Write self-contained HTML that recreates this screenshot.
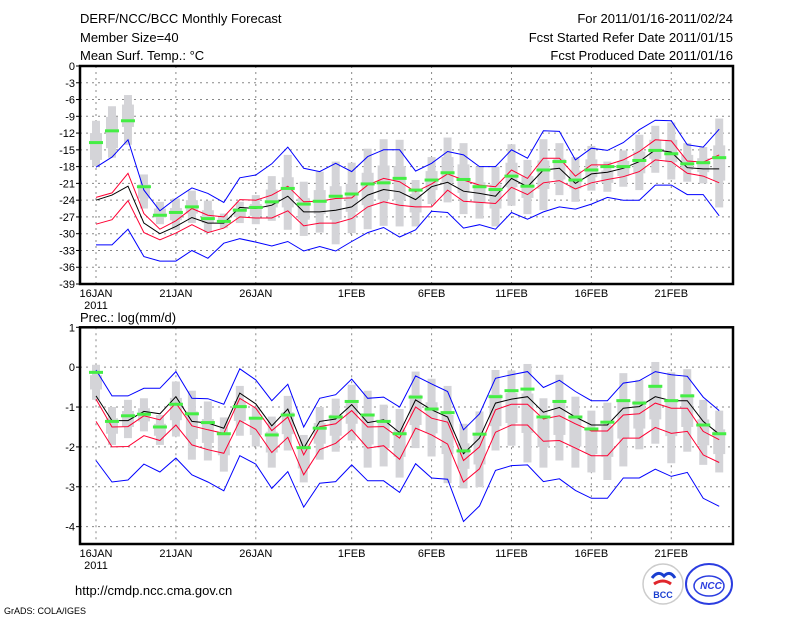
<!DOCTYPE html>
<html><head><meta charset="utf-8">
<style>
html,body{margin:0;padding:0;background:#fff;}
svg{display:block;font-family:"Liberation Sans",sans-serif;}
</style></head>
<body>
<svg id="chart" width="800" height="618" viewBox="0 0 800 618">
<text x="80" y="23" font-size="13">DERF/NCC/BCC Monthly Forecast</text>
<text x="80" y="42" font-size="13">Member Size=40</text>
<text x="80" y="60" font-size="13">Mean Surf. Temp.: °C</text>
<text x="733" y="23" font-size="13" text-anchor="end">For 2011/01/16-2011/02/24</text>
<text x="733" y="42" font-size="13" text-anchor="end">Fcst Started Refer Date 2011/01/15</text>
<text x="733" y="60" font-size="13" text-anchor="end">Fcst Produced Date 2011/01/16</text>
<text x="80" y="322" font-size="13">Prec.: log(mm/d)</text>
<text x="75" y="595" font-size="13">http://cmdp.ncc.cma.gov.cn</text>
<text x="4" y="614" font-size="9">GrADS: COLA/IGES</text>
<g>
<circle cx="663" cy="584" r="20" fill="#fff" stroke="#ccc" stroke-width="1.5"/>
<path d="M652 578 q6 -8 12 -2 q6 -6 11 2" fill="none" stroke="#1a3fd0" stroke-width="3"/>
<path d="M654 584 q9 -6 17 0" fill="none" stroke="#e0262c" stroke-width="3"/>
<text x="663" y="598" font-size="9" font-weight="bold" text-anchor="middle" fill="#1a3fd0">BCC</text>
</g>
<g>
<ellipse cx="709" cy="584" rx="23" ry="20" fill="#fff" stroke="#2b3de0" stroke-width="2"/>
<ellipse cx="709" cy="586" rx="15" ry="10" fill="none" stroke="#2b3de0" stroke-width="1.5"/>
<text x="711" y="589" font-size="10" font-weight="bold" font-style="italic" text-anchor="middle" fill="#2b3de0">NCC</text>
</g>
<g id="top"></g>
<g id="bot"></g>
</svg>
<script>
// ---- temperature data (days 0..39 from 16 Jan) ----
const tBlueTop=[-18.1,-16.3,-13.2,-22.2,-25.9,-23.7,-21.8,-22.8,-24.4,-20,-19.5,-17.5,-14.5,-18.3,-18.9,-17.4,-18.9,-16.2,-15,-15,-18.8,-17.4,-15.3,-15.9,-18,-18,-15,-16.5,-11.6,-11.7,-16.8,-14.7,-15.1,-13.7,-11.4,-9.7,-9.8,-14.1,-14.5,-11.3];
const tRedTop=[-23.5,-22.7,-19.2,-26.4,-29.2,-27.7,-25.5,-26.7,-27,-23.9,-24,-23.1,-21.5,-24.3,-24.2,-23.7,-23.6,-21.3,-20.1,-20.7,-22.5,-21.1,-19.3,-20.4,-21.3,-21.6,-18.6,-20.1,-16.5,-16.5,-19.7,-17.7,-17.7,-16.8,-15.3,-13.2,-13.4,-17,-17.2,-15.9];
const tMean=[-24,-23.1,-21.5,-28.1,-30,-28.7,-27.1,-28.1,-28.1,-25.3,-25.5,-24.9,-23.3,-26.1,-26.1,-25.8,-25.2,-23.1,-22.1,-22.5,-23.9,-21.6,-20.8,-22.4,-22.8,-23.3,-20.1,-21.6,-18.6,-18.3,-21,-19.3,-19,-18.3,-17.1,-15,-15.4,-18.2,-18.4,-18.4];
const tRedBot=[-28.3,-27.5,-24.1,-29.8,-31.1,-29.9,-28.4,-29.8,-29,-27,-27.2,-27.2,-25.9,-28.6,-28.1,-28.1,-27.3,-25.2,-24.3,-24.9,-25.2,-25.2,-22.2,-24.2,-24.4,-24.6,-21.7,-23,-20.9,-20.5,-22,-20.9,-20.3,-19.8,-18.9,-16.8,-17.1,-19.2,-19.7,-20.9];
const tBlueBot=[-32,-32,-29.2,-34.1,-34.9,-34.9,-33,-34.4,-31.7,-30.9,-31.5,-32.2,-31.4,-33.1,-32.3,-33.1,-31.4,-29.8,-28.9,-30.6,-29.3,-26,-26.2,-29,-28.4,-29.2,-26.2,-27.4,-26.1,-25.2,-25.6,-24.7,-23.5,-24,-24,-21.3,-21.3,-23,-23,-26.8];
const tObs=[-13.7,-11.6,-9.8,-21.6,-26.7,-26.2,-25.2,-27.3,-27.8,-25.8,-25.3,-24.3,-21.9,-24.7,-24.2,-23.3,-22.9,-21.1,-20.9,-20.1,-22.2,-20.4,-19.1,-20.3,-21.6,-22.1,-19.7,-21.5,-18.6,-17.1,-20.4,-18.6,-18,-18,-16.9,-15.1,-15.7,-17.5,-17.3,-16.4];
const tMax=[-9.8,-7.2,-5.2,-19.4,-24.3,-23.7,-22.3,-24.1,-26.4,-24.3,-23.1,-19.7,-15.9,-20.7,-18.9,-17.1,-17.3,-14.8,-13.1,-13.2,-20.4,-16.3,-12.8,-13.8,-18,-18,-14,-16.8,-13.1,-13.8,-16.3,-14.3,-17.1,-15.1,-12.3,-10.7,-10.1,-13.8,-14.5,-9.4];
const tMin=[-17.9,-16.4,-14.1,-25.5,-28.3,-29.3,-28.1,-29.8,-29,-28.1,-28.3,-27.7,-29.3,-30.4,-29.8,-31.9,-29.9,-29.2,-28.6,-28.7,-28.7,-24.7,-24.4,-26.5,-27.3,-28.7,-25,-26.5,-25.8,-23.1,-24.3,-22.3,-22.5,-21.6,-22.2,-19.1,-20.3,-20.7,-21,-25.3];
const tQHi=[-12,-9.1,-6.9,-21.2,-25.5,-25.4,-24,-25.8,-27.2,-25.4,-24.7,-22.1,-19.9,-23.6,-22.2,-21.5,-21.1,-19.1,-17.8,-17.9,-22.9,-18.8,-16.3,-17.6,-20.8,-21.2,-17.3,-19.7,-16.9,-16.6,-18.7,-16.7,-18.7,-17,-15.3,-13.2,-13.2,-15.9,-16.5,-14.2];
const tQLo=[-16.8,-14.7,-10.9,-23.7,-27.1,-27.6,-26.4,-28.1,-28.2,-27,-26.8,-25.3,-25.3,-27.5,-26.5,-27.5,-26.1,-24.9,-23.9,-24,-26.2,-22.2,-20.9,-22.7,-24.5,-25.5,-21.7,-23.6,-22,-20.3,-21.9,-19.9,-20.9,-19.7,-19.2,-16.6,-17.2,-18.6,-19,-20.5];
const tTicks=[0,-3,-6,-9,-12,-15,-18,-21,-24,-27,-30,-33,-36,-39];
// ---- precipitation data ----
const pBlueTop=[-0.07,-0.72,-0.72,-0.53,-0.53,-0.11,-0.78,-0.79,-0.93,-0.04,-0.32,-0.84,-0.43,-1.5,-0.78,-0.69,-0.3,-0.78,-0.75,-1.0,-0.22,-0.42,-0.61,-1.57,-1.17,-0.28,-0.19,-0.11,-0.51,-0.33,-0.61,-0.84,-0.84,-0.4,-0.34,-0.11,-0.19,-0.23,-0.75,-1.09];
const pRedTop=[-0.8,-1.5,-1.49,-1.22,-1.32,-0.9,-1.47,-1.57,-1.66,-0.78,-1.03,-1.59,-1.25,-2.2,-1.49,-1.42,-1.09,-1.5,-1.49,-1.78,-1,-1.28,-1.38,-2.34,-2,-1.07,-0.93,-0.93,-1.3,-1.22,-1.42,-1.6,-1.6,-1.2,-1.17,-0.9,-1.03,-1.03,-1.61,-1.82];
const pMean=[-0.72,-1.34,-1.34,-1.11,-1.17,-0.74,-1.36,-1.4,-1.53,-0.65,-0.92,-1.47,-1.05,-2.03,-1.36,-1.3,-0.94,-1.39,-1.32,-1.64,-0.82,-1.07,-1.25,-2.17,-1.78,-0.9,-0.8,-0.74,-1.13,-1.01,-1.25,-1.45,-1.45,-1.03,-0.99,-0.74,-0.84,-0.84,-1.36,-1.68];
const pRedBot=[-1.36,-2,-1.99,-1.72,-1.84,-1.45,-1.95,-2.07,-2.16,-1.34,-1.56,-2.14,-1.76,-2.7,-2.07,-1.91,-1.57,-2.03,-1.97,-2.31,-1.53,-1.7,-1.93,-2.88,-2.55,-1.63,-1.45,-1.45,-1.86,-1.84,-2.03,-2.22,-2.22,-1.78,-1.78,-1.51,-1.66,-1.61,-2.2,-2.39];
const pBlueBot=[-2.34,-2.88,-2.83,-2.43,-2.63,-2.28,-2.7,-2.88,-3.1,-2.22,-2.43,-3.04,-2.62,-3.51,-2.91,-2.87,-2.45,-2.85,-2.85,-3.14,-2.42,-2.78,-2.81,-3.87,-3.48,-2.59,-2.47,-2.45,-2.87,-2.8,-3.09,-3.29,-3.29,-2.78,-2.78,-2.56,-2.74,-2.64,-3.29,-3.49];
const pObs=[-0.13,-1.36,-1.22,-1.18,-1.5,-0.93,-1.17,-1.39,-1.67,-0.99,-1.28,-1.7,-1.2,-2.02,-1.53,-1.25,-0.86,-1.2,-1.36,-1.67,-0.75,-1.05,-1.14,-2.1,-1.68,-0.74,-0.59,-0.55,-1.25,-0.86,-1.25,-1.55,-1.38,-0.84,-0.9,-0.48,-0.84,-0.72,-1.45,-1.67];
const pMax=[0.06,-1,-0.82,-0.78,-1.2,-0.36,-0.59,-0.86,-1.26,-0.47,-1,-1.24,-0.72,-1.7,-1,-0.79,-0.44,-0.59,-0.94,-1.05,-0.11,-0.29,-0.47,-1.42,-1.11,-0.07,-0.08,0.08,-0.78,-0.19,-0.74,-1.09,-0.89,-0.15,-0.32,0.13,-0.13,-0.05,-0.82,-1.09];
const pMin=[-0.82,-1.95,-1.78,-1.61,-1.95,-1.74,-2.32,-2.34,-2.62,-1.72,-1.99,-2.52,-2.09,-2.89,-2.32,-2.12,-1.84,-2.52,-2.49,-2.77,-2.03,-2.24,-2.91,-3.04,-3.01,-2.09,-1.97,-2.39,-2.52,-2.34,-2.52,-2.64,-2.83,-2.49,-2.06,-1.92,-2.41,-2.12,-2.45,-2.64];
const pQHi=[-0.2,-1.28,-1.1,-1.03,-1.42,-0.77,-1.11,-1.3,-1.67,-0.85,-1.3,-1.62,-1.13,-2.06,-1.4,-1.19,-0.86,-1.17,-1.4,-1.57,-0.69,-0.88,-1.2,-1.91,-1.68,-0.68,-0.65,-0.66,-1.3,-0.84,-1.27,-1.56,-1.47,-0.85,-0.84,-0.49,-0.81,-0.67,-1.31,-1.56];
const pQLo=[-0.56,-1.67,-1.5,-1.36,-1.72,-1.33,-1.8,-1.9,-2.21,-1.35,-1.7,-2.14,-1.68,-2.54,-1.92,-1.72,-1.42,-1.94,-2.03,-2.25,-1.45,-1.66,-2.18,-2.55,-2.44,-1.48,-1.4,-1.65,-2,-1.7,-1.99,-2.18,-2.25,-1.79,-1.54,-1.31,-1.73,-1.5,-1.96,-2.18];
const pTicks=[1,0,-1,-2,-3,-4];
const xLabels=["16JAN","21JAN","26JAN","1FEB","6FEB","11FEB","16FEB","21FEB"];
const xLabelDays=[0,5,10,16,21,26,31,36];

const NS="http://www.w3.org/2000/svg";
const X0=80,X1=733;
function xDay(d){return 96+d*15.98;}
function mk(parent,tag,attrs){const e=document.createElementNS(NS,tag);for(const k in attrs)e.setAttribute(k,attrs[k]);parent.appendChild(e);return e;}

function panel(gid,yTop,yBot,vTop,vPerPx,ticks,S,prefix){
  const g=document.getElementById(gid);
  const y=v=>yTop+(vTop-v)*vPerPx;
  // grid
  ticks.forEach(t=>{
    const yy=y(t);
    if(yy>yTop+1&&yy<yBot-1){const l=mk(g,'line',{x1:X0,x2:X1,y1:yy,y2:yy,stroke:'#888','stroke-width':1,'stroke-dasharray':'2,4'});
    
    }
    const tk=mk(g,'line',{x1:X0-4,x2:X0,y1:yy,y2:yy,stroke:'#000'});
    
    
    const tx=mk(g,'text',{x:X0-5,y:yy+4,'font-size':11,'text-anchor':'end'});
    tx.textContent=String(t);
    
    
  });
  xLabelDays.forEach((d,i)=>{
    const xx=xDay(d);
    const l=mk(g,'line',{x1:xx,x2:xx,y1:yTop,y2:yBot,stroke:'#888','stroke-width':1,'stroke-dasharray':'2,4'});
    
    
    const tx=mk(g,'text',{x:xx,y:yBot+13,'font-size':11,'text-anchor':'middle'});
    tx.textContent=xLabels[i];
    
    
  });
  const yr=mk(g,'text',{x:xDay(0),y:yBot+25,'font-size':11,'text-anchor':'middle'});
  yr.textContent='2011';
  
  
  // boxes
  for(let d=0;d<S.max.length;d++){
    const xx=xDay(d);
    const w=mk(g,'rect',{x:xx-4,y:y(S.max[d]),width:8,height:y(S.min[d])-y(S.max[d]),fill:'#d4d4d8'});
    
    
    const b=mk(g,'rect',{x:xx-6,y:y(S.qhi[d]),width:12,height:y(S.qlo[d])-y(S.qhi[d]),fill:'#d4d4d8'});
    
    
  }
  const lines=[[S.bt,'#0000ff','upper-bound-line'],[S.bb,'#0000ff','lower-bound-line'],[S.rt,'#ff0033','upper-std-line'],[S.rb,'#ff0033','lower-std-line'],[S.m,'#000','ensemble-mean-line']];
  lines.forEach(([arr,c,n])=>{
    const p=mk(g,'polyline',{points:arr.map((v,d)=>xDay(d).toFixed(1)+','+y(v).toFixed(1)).join(' '),fill:'none',stroke:c,'stroke-width':1});
    
    
  });
  for(let d=0;d<S.obs.length;d++){
    const r=mk(g,'rect',{x:xDay(d)-7,y:y(S.obs[d])-1.5,width:14,height:3,fill:'#44ee44'});
    
    
  }
  const fr=mk(g,'rect',{x:X0,y:yTop,width:X1-X0,height:yBot-yTop,fill:'none',stroke:'#000','stroke-width':2.5});
  
  
}
panel('top',66,284,0,218/39,tTicks,{bt:tBlueTop,rt:tRedTop,m:tMean,rb:tRedBot,bb:tBlueBot,obs:tObs,max:tMax,min:tMin,qhi:tQHi,qlo:tQLo},'temp');
panel('bot',327.3,544,1,39.87,pTicks,{bt:pBlueTop,rt:pRedTop,m:pMean,rb:pRedBot,bb:pBlueBot,obs:pObs,max:pMax,min:pMin,qhi:pQHi,qlo:pQLo},'precip');
</script>
</body></html>
